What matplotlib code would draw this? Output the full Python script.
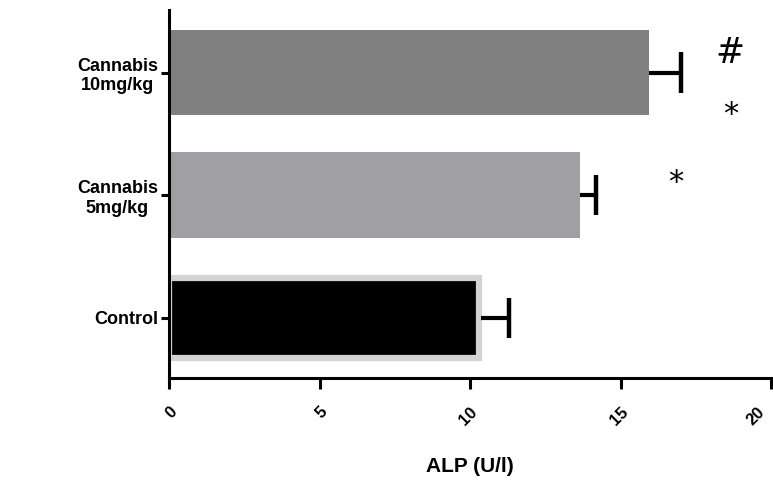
import matplotlib
matplotlib.use("Agg")
import matplotlib.pyplot as plt
from matplotlib.transforms import ScaledTranslation

categories = ["Control", "Cannabis\n5mg/kg", "Cannabis\n10mg/kg"]
values = [10.3, 13.65, 15.95]
errors = [1.0, 0.55, 1.05]
colors = ["#000000", "#a0a0a4", "#808080"]
x_ticks = [0, 5, 10, 15, 20]
annotations = [("#", 18.65, 2.16), ("*", 18.65, 1.66), ("*", 16.83, 1.1)]

plt.rcParams['font.family'] = ['Liberation Sans', 'DejaVu Sans']

fig = plt.figure(figsize=(7.73, 4.83), dpi=100)
ax = fig.add_axes([169/773, 1-378/483, 602/773, 368/483])

ypos = list(range(len(categories)))
cap_half = 0.165
for i, (v, e, c) in enumerate(zip(values, errors, colors)):
    if i == 0:
        ax.barh(i, v, height=0.65, color=c, edgecolor="#d3d3d3", linewidth=4.5, zorder=2)
    else:
        ax.barh(i, v, height=0.7, color=c, edgecolor="none", zorder=2)
    start = v + (0.08 if i == 0 else 0)
    ax.hlines(i, start, v + e, color="black", linewidth=3, zorder=3)
    ax.vlines(v + e, i - cap_half, i + cap_half, color="black", linewidth=3.2, zorder=3)

for txt, xx, yy in annotations:
    ax.text(xx, yy, txt, ha="center", va="center", fontsize=25 if txt == "#" else 22,
            fontfamily="DejaVu Sans", color="black")

ax.set_xlim(0, 20)
ax.set_ylim(-0.49, 2.51)
ax.set_xticks(x_ticks)
ax.set_xticklabels([str(t) for t in x_ticks], rotation=45, fontweight="bold", fontsize=12,
                   ha="right", rotation_mode="anchor")
ax.set_yticks(ypos)
ax.set_yticklabels(categories, fontweight="bold", fontsize=13, multialignment="center")
for s in ["top", "right"]:
    ax.spines[s].set_visible(False)
for s in ["left", "bottom"]:
    ax.spines[s].set_linewidth(2.2)
ax.tick_params(axis="x", length=8, width=2.2, pad=11)
ax.tick_params(axis="y", length=6, width=2.2, pad=2)
ax.set_xlabel("ALP (U/l)", fontweight="bold", fontsize=15, labelpad=21)

# keep the last tick label inside the canvas
last = ax.get_xticklabels()[-1]
last.set_transform(last.get_transform() + ScaledTranslation(-10/72, 0, fig.dpi_scale_trans))

fig.savefig("out.png", dpi=100)
